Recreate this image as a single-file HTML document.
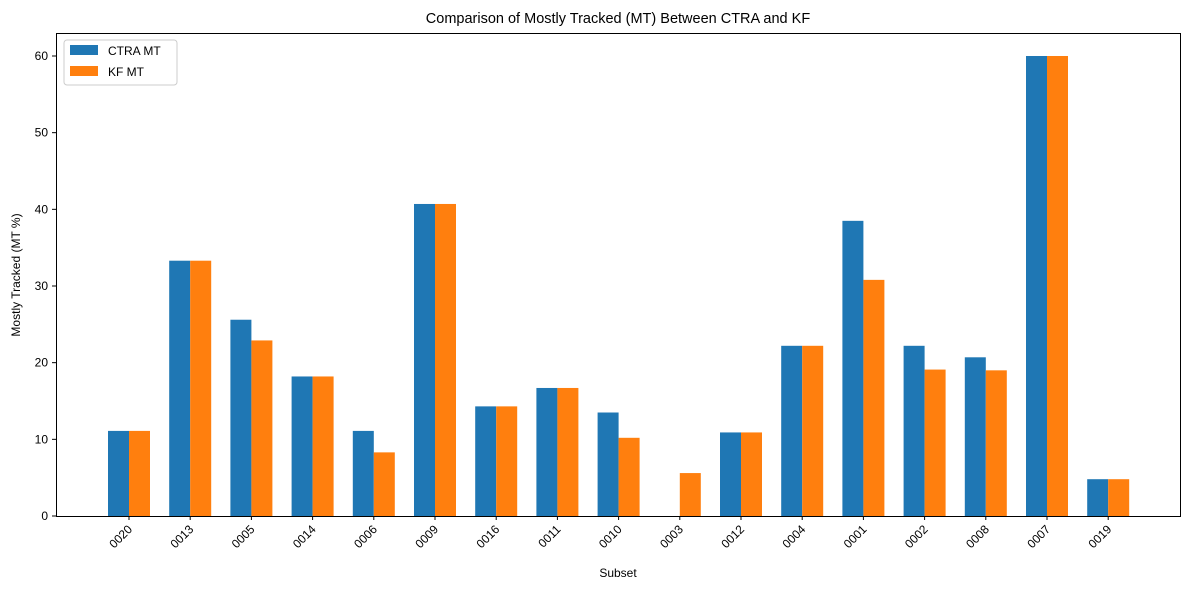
<!DOCTYPE html>
<html><head><meta charset="utf-8">
<style>
body{margin:0;background:#fff;}
svg{display:block;font-family:"Liberation Sans","DejaVu Sans",sans-serif;}
</style></head>
<body>
<svg id="chart" width="1189" height="590" viewBox="0 0 1189 590" xmlns="http://www.w3.org/2000/svg">
<rect width="1189" height="590" fill="#fff"/>
<text x="618" y="23" font-size="14.5" text-anchor="middle" fill="#000">Comparison of Mostly Tracked (MT) Between CTRA and KF</text>
<g id="bars"></g>
<g id="axes"></g>
<rect x="56.5" y="33.5" width="1124" height="483" fill="none" stroke="#000" stroke-width="1"/>
<text x="618" y="577" font-size="12" text-anchor="middle">Subset</text>
<text transform="translate(20,275) rotate(-90)" font-size="12" text-anchor="middle">Mostly Tracked (MT %)</text>
<g>
<rect x="64" y="40" width="113" height="45" fill="#fff" stroke="#ccc" rx="3"/>
<rect x="70" y="45" width="28" height="10" fill="#1f77b4"/>
<text x="108" y="55" font-size="12">CTRA MT</text>
<rect x="70" y="66" width="28" height="10" fill="#ff7f0e"/>
<text x="108" y="76" font-size="12">KF MT</text>
</g>
</svg>
<script>
const categories=["0020","0013","0005","0014","0006","0009","0016","0011","0010","0003","0012","0004","0001","0002","0008","0007","0019"];
const ctraValues=[11.1,33.3,25.6,18.2,11.1,40.7,14.3,16.7,13.5,0,10.9,22.2,38.5,22.2,20.7,60,4.8];
const kfValues=[11.1,33.3,22.9,18.2,8.3,40.7,14.3,16.7,10.2,5.6,10.9,22.2,30.8,19.1,19.0,60,4.8];
const yTicks=[0,10,20,30,40,50,60];

const NS="http://www.w3.org/2000/svg";
const yScale=v=>516-v*(460/60);
const xScale=i=>129+i*61.2;
const bw=21;
const bars=document.getElementById('bars');
const axes=document.getElementById('axes');
function mk(tag,attrs,parent){const e=document.createElementNS(NS,tag);for(const k in attrs)e.setAttribute(k,attrs[k]);parent.appendChild(e);return e;}
categories.forEach((c,i)=>{
  const cx=xScale(i);
  let r=mk('rect',{x:cx-bw,y:yScale(ctraValues[i]),width:bw,height:516-yScale(ctraValues[i]),fill:'#1f77b4'},bars);
  
  
  r=mk('rect',{x:cx,y:yScale(kfValues[i]),width:bw,height:516-yScale(kfValues[i]),fill:'#ff7f0e'},bars);
  
  
  mk('line',{x1:cx,x2:cx,y1:516,y2:520,stroke:'#000'},axes);
  const t=mk('text',{x:cx+4,y:530,'font-size':12,'text-anchor':'end',transform:`rotate(-45 ${cx+4} 530)`},axes);
  t.textContent=c;
  
  
});
yTicks.forEach(v=>{
  const y=yScale(v);
  mk('line',{x1:52,x2:56,y1:y,y2:y,stroke:'#000'},axes);
  const t=mk('text',{x:48,y:y+4,'font-size':12,'text-anchor':'end'},axes);
  t.textContent=v;
  
  
});
</script>
</body></html>
